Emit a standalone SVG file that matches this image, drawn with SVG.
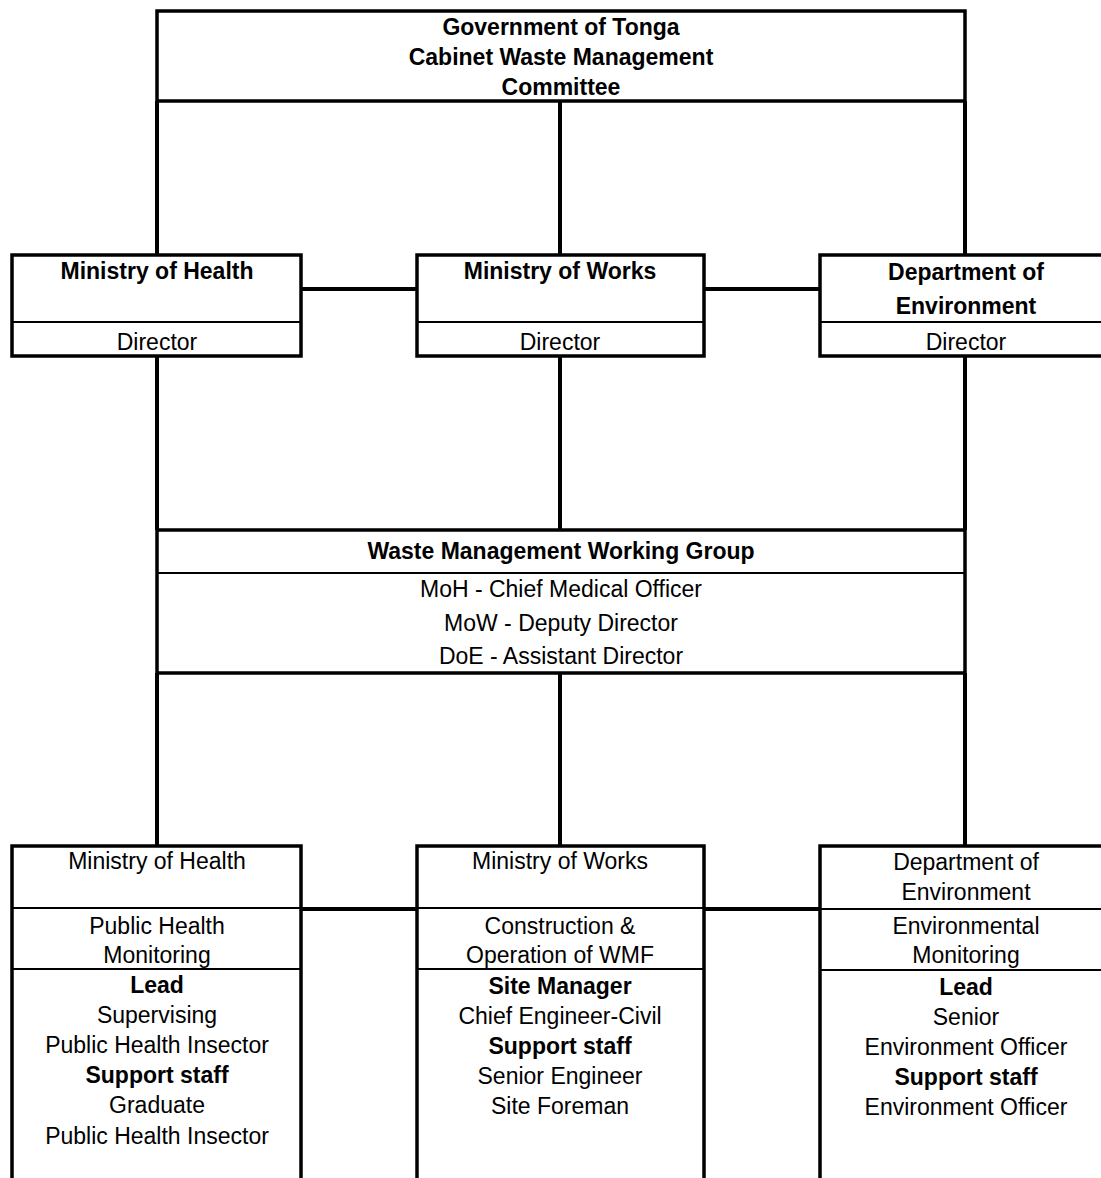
<svg xmlns="http://www.w3.org/2000/svg" width="1101" height="1178" viewBox="0 0 1101 1178">
<style>
.box{fill:#fff;stroke:#000;stroke-width:3.5}
.div{stroke:#000;stroke-width:2}
.con{stroke:#000;stroke-width:4;fill:none}
text{font-family:"Liberation Sans",Arial,sans-serif;font-size:23px;text-anchor:middle;fill:#000}
.b{font-weight:bold}
</style>
<rect width="1101" height="1178" fill="#fff"/>
<g id="connectors">
<line class="con" x1="157" y1="101" x2="157" y2="255"/>
<line class="con" x1="560" y1="101" x2="560" y2="255"/>
<line class="con" x1="965" y1="101" x2="965" y2="255"/>
<line class="con" x1="301" y1="289" x2="417" y2="289"/>
<line class="con" x1="704" y1="289" x2="820" y2="289"/>
<line class="con" x1="157" y1="356" x2="157" y2="530"/>
<line class="con" x1="560" y1="356" x2="560" y2="530"/>
<line class="con" x1="965" y1="356" x2="965" y2="530"/>
<line class="con" x1="157" y1="673" x2="157" y2="846"/>
<line class="con" x1="560" y1="673" x2="560" y2="846"/>
<line class="con" x1="965" y1="673" x2="965" y2="846"/>
<line class="con" x1="301" y1="909" x2="417" y2="909"/>
<line class="con" x1="704" y1="909" x2="820" y2="909"/>
</g>
<g id="cabinet">
<rect class="box" x="157" y="11" width="808" height="90"/>
<text class="b" x="561" y="35">Government of Tonga</text>
<text class="b" x="561" y="65">Cabinet Waste Management</text>
<text class="b" x="561" y="95">Committee</text>
</g>
<g id="moh-top">
<rect class="box" x="12" y="255" width="289" height="101"/>
<line class="div" x1="12" y1="322" x2="301" y2="322"/>
<text class="b" x="157" y="279">Ministry of Health</text>
<text x="157" y="350">Director</text>
</g>
<g id="mow-top">
<rect class="box" x="417" y="255" width="287" height="101"/>
<line class="div" x1="417" y1="322" x2="704" y2="322"/>
<text class="b" x="560" y="279">Ministry of Works</text>
<text x="560" y="350">Director</text>
</g>
<g id="doe-top">
<rect class="box" x="820" y="255" width="300" height="101"/>
<line class="div" x1="820" y1="322" x2="1110" y2="322"/>
<text class="b" x="966" y="280">Department of</text>
<text class="b" x="966" y="314">Environment</text>
<text x="966" y="350">Director</text>
</g>
<g id="wmwg">
<rect class="box" x="157" y="530" width="808" height="143"/>
<line class="div" x1="157" y1="573" x2="965" y2="573"/>
<text class="b" x="561" y="559">Waste Management Working Group</text>
<text x="561" y="597">MoH - Chief Medical Officer</text>
<text x="561" y="631">MoW - Deputy Director</text>
<text x="561" y="664">DoE - Assistant Director</text>
</g>
<g id="moh-bottom">
<rect class="box" x="12" y="846" width="289" height="350"/>
<line class="div" x1="12" y1="908" x2="301" y2="908"/>
<line class="div" x1="12" y1="969" x2="301" y2="969"/>
<text x="157" y="869">Ministry of Health</text>
<text x="157" y="934">Public Health</text>
<text x="157" y="963">Monitoring</text>
<text class="b" x="157" y="993">Lead</text>
<text x="157" y="1023">Supervising</text>
<text x="157" y="1053">Public Health Insector</text>
<text class="b" x="157" y="1083">Support staff</text>
<text x="157" y="1113">Graduate</text>
<text x="157" y="1144">Public Health Insector</text>
</g>
<g id="mow-bottom">
<rect class="box" x="417" y="846" width="287" height="350"/>
<line class="div" x1="417" y1="908" x2="704" y2="908"/>
<line class="div" x1="417" y1="969" x2="704" y2="969"/>
<text x="560" y="869">Ministry of Works</text>
<text x="560" y="934">Construction &amp;</text>
<text x="560" y="963">Operation of WMF</text>
<text class="b" x="560" y="994">Site Manager</text>
<text x="560" y="1024">Chief Engineer-Civil</text>
<text class="b" x="560" y="1054">Support staff</text>
<text x="560" y="1084">Senior Engineer</text>
<text x="560" y="1114">Site Foreman</text>
</g>
<g id="doe-bottom">
<rect class="box" x="820" y="846" width="300" height="350"/>
<line class="div" x1="820" y1="909" x2="1110" y2="909"/>
<line class="div" x1="820" y1="970" x2="1110" y2="970"/>
<text x="966" y="870">Department of</text>
<text x="966" y="900">Environment</text>
<text x="966" y="934">Environmental</text>
<text x="966" y="963">Monitoring</text>
<text class="b" x="966" y="995">Lead</text>
<text x="966" y="1025">Senior</text>
<text x="966" y="1055">Environment Officer</text>
<text class="b" x="966" y="1085">Support staff</text>
<text x="966" y="1115">Environment Officer</text>
</g>
</svg>
